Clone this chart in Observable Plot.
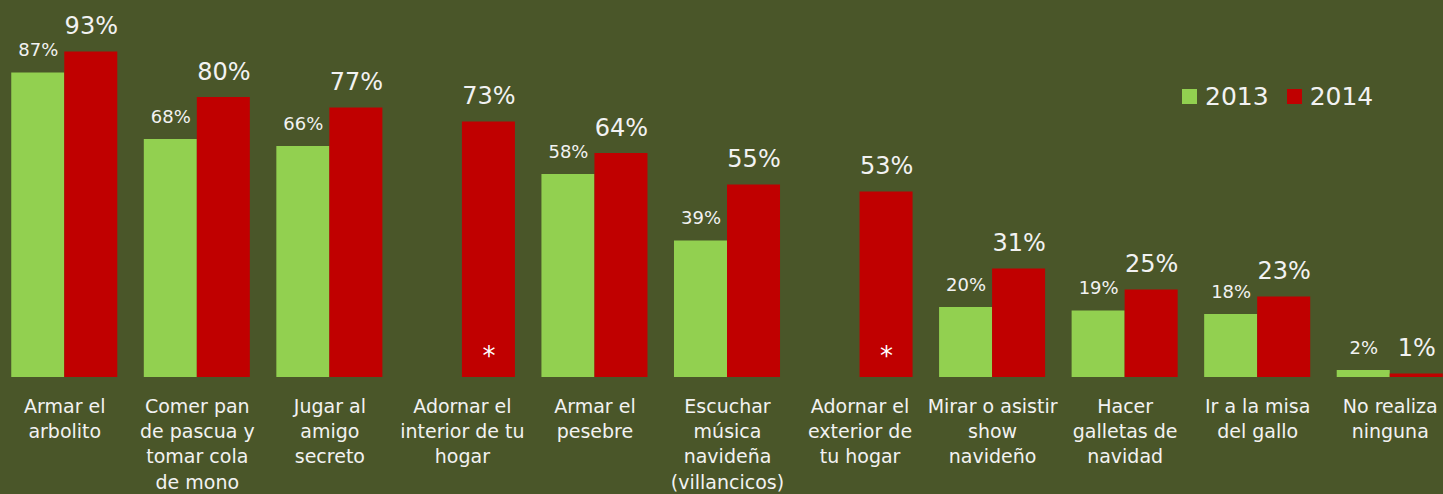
<!DOCTYPE html>
<html><head><meta charset="utf-8">
<script src="https://cdn.jsdelivr.net/npm/d3@7"></script>
<script src="https://cdn.jsdelivr.net/npm/@observablehq/plot@0.6"></script>
<style>
html,body{margin:0;padding:0;background:#4a5629;}
#wrap{position:relative;width:1443px;height:494px;overflow:hidden;background:#4a5629;}
#legend{position:absolute;left:1182px;top:82px;display:flex;align-items:center;font-family:"DejaVu Sans",sans-serif;font-size:25px;color:#f2f2f2;}
#legend .sw{display:inline-block;width:15px;height:15px;margin-right:8px;}
#legend .item{display:flex;align-items:center;margin-right:18px;}
</style></head><body><div id="wrap"><div id="chart"></div><div id="legend"></div></div>
<script>
const categories = ["Armar el arbolito","Comer pan de pascua y tomar cola de mono","Jugar al amigo secreto","Adornar el interior de tu hogar","Armar el pesebre","Escuchar música navideña (villancicos)","Adornar el exterior de tu hogar","Mirar o asistir show navideño","Hacer galletas de navidad","Ir a la misa del gallo","No realiza ninguna"];
const tickLabels = ["Armar el\narbolito","Comer pan\nde pascua y\ntomar cola\nde mono","Jugar al\namigo\nsecreto","Adornar el\ninterior de tu\nhogar","Armar el\npesebre","Escuchar\nmúsica\nnavideña\n(villancicos)","Adornar el\nexterior de\ntu hogar","Mirar o asistir\nshow\nnavideño","Hacer\ngalletas de\nnavidad","Ir a la misa\ndel gallo","No realiza\nninguna"];
const values2013 = [87, 68, 66, null, 58, 39, null, 20, 19, 18, 2];
const values2014 = [93, 80, 77, 73, 64, 55, 53, 31, 25, 23, 1];
const years = ["2013", "2014"];
const colors = ["#92d050", "#c00000"];

const data = [];
categories.forEach((c, i) => {
  data.push({cat: c, year: "2013", value: values2013[i]});
  data.push({cat: c, year: "2014", value: values2014[i]});
});
const bars = data.filter(d => d.value != null);
const missing = categories.filter((c, i) => values2013[i] == null).map(c => ({cat: c, year: "2014"}));
const font = "'DejaVu Sans', sans-serif";

const chart = Plot.plot({
  width: 1443, height: 494,
  marginTop: 27, marginBottom: 117, marginLeft: 0, marginRight: 0,
  style: {background: "transparent", color: "#f2f2f2", fontFamily: font, overflow: "visible"},
  fx: {domain: categories, range: [-2, 1456], paddingInner: 0.2, paddingOuter: 0.1, round: false, axis: null},
  x: {domain: years, padding: 0, round: false, axis: null},
  y: {domain: [0, 100], axis: null},
  color: {domain: years, range: colors},
  marks: [
    Plot.barY(bars, {fx: "cat", x: "year", y: "value", fill: "year"}),
    Plot.text(bars.filter(d => d.year === "2013"), {fx: "cat", x: "year", y: "value", text: d => d.value + "%", lineAnchor: "bottom", dy: -17, fontSize: 18, fill: "#f2f2f2"}),
    Plot.text(bars.filter(d => d.year === "2014"), {fx: "cat", x: "year", y: "value", text: d => d.value + "%", lineAnchor: "bottom", dy: -18, fontSize: 24, fill: "#f2f2f2"}),
    Plot.text(missing, {fx: "cat", x: "year", frameAnchor: "bottom", text: () => "*", lineAnchor: "middle", dy: -21, fontSize: 26, fill: "#ffffff"}),
    Plot.axisFx({domain: categories, anchor: "bottom", tickSize: 0, tickPadding: 18, fontSize: 19, lineHeight: 1.32, label: null, tickFormat: c => tickLabels[categories.indexOf(c)], fill: "#f2f2f2"})
  ]
});
document.getElementById("chart").appendChild(chart);

const legend = document.getElementById("legend");
years.forEach((y, i) => {
  const item = document.createElement("span");
  item.className = "item";
  const sw = document.createElement("span");
  sw.className = "sw";
  sw.style.background = colors[i];
  item.appendChild(sw);
  item.appendChild(document.createTextNode(y));
  legend.appendChild(item);
});
</script>
</body></html>
